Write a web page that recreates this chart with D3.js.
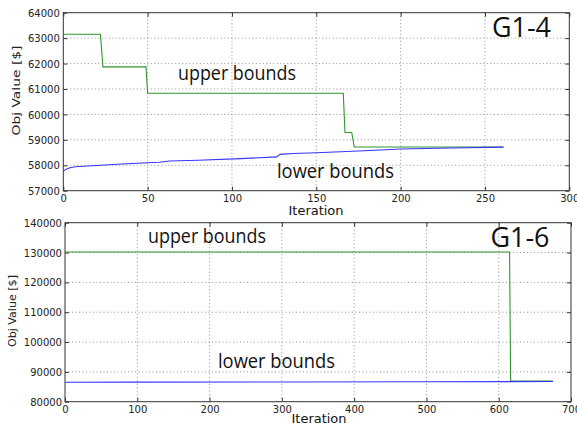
<!DOCTYPE html>
<html>
<head>
<meta charset="utf-8">
<script src="https://cdn.jsdelivr.net/npm/d3@7/dist/d3.min.js"></script>
<style>
  body { margin: 0; background: #fff; }
  svg { display: block; }
  .tick text { font-family: "DejaVu Sans", sans-serif; font-size: 10px; fill: #222; }
  .note { font-family: "Open Sans", "Noto Sans", sans-serif; fill: #111; }
</style>
</head>
<body>
<div id="chart"></div>
<script>
// G1-4 : [iteration, objective]
var g14Upper = [[0,63150],[22,63150],[23.5,61870],[49,61870],[50,60830],[166,60830],[167,59290],[171,59290],[172.5,58720],[261,58720]];
var g14Lower = [[0,57780],[2,57850],[4,57900],[7,57940],[22,58000],[35,58050],[50,58100],[57,58120],[63,58170],[80,58200],[105,58260],[126.5,58330],[128.5,58430],[136,58460],[150,58490],[168,58540],[185,58590],[200,58640],[230,58680],[261,58715]];
var g14XTicks = [0,50,100,150,200,250,300];
var g14YTicks = [57000,58000,59000,60000,61000,62000,63000,64000];

// G1-6
var g16Upper = [[0,130200],[615,130200],[616.5,86950],[675,86950]];
var g16Lower = [[0,86500],[100,86560],[300,86620],[500,86680],[675,86750]];
var g16XTicks = [0,100,200,300,400,500,600,700];
var g16YTicks = [80000,90000,100000,110000,120000,130000,140000];

var svg = d3.select("#chart").append("svg")
  .attr("width", 577)
  .attr("height", 425);

function panel(opt) {
  var x = d3.scaleLinear().domain(opt.xDomain).range([opt.left, opt.right]);
  var y = d3.scaleLinear().domain(opt.yDomain).range([opt.bottom, opt.top]);
  var g = svg.append("g");

  // grid
  g.append("g").selectAll("line.gx")
    .data(opt.xTicks.slice(1, -1)).enter().append("line")
    .attr("x1", d => x(d)).attr("x2", d => x(d))
    .attr("y1", opt.top).attr("y2", opt.bottom)
    .attr("stroke", "#777").attr("stroke-width", 0.8).attr("stroke-dasharray", "1,2.5");
  g.append("g").selectAll("line.gy")
    .data(opt.yTicks.slice(1, -1)).enter().append("line")
    .attr("y1", d => y(d)).attr("y2", d => y(d))
    .attr("x1", opt.left).attr("x2", opt.right)
    .attr("stroke", "#777").attr("stroke-width", 0.8).attr("stroke-dasharray", "1,2.5");

  // axes, ticks pointing inward
  var xb = g.append("g").attr("transform", "translate(0," + opt.bottom + ")")
    .call(d3.axisBottom(x).tickValues(opt.xTicks).tickSizeInner(-4).tickSizeOuter(0).tickPadding(4));
  var xt = g.append("g").attr("transform", "translate(0," + opt.top + ")")
    .call(d3.axisTop(x).tickValues(opt.xTicks).tickSizeInner(-4).tickSizeOuter(0).tickFormat(""));
  var yl = g.append("g").attr("transform", "translate(" + opt.left + ",0)")
    .call(d3.axisLeft(y).tickValues(opt.yTicks).tickSizeInner(-4).tickSizeOuter(0).tickPadding(opt.yPad).tickFormat(d3.format("d")));
  var yr = g.append("g").attr("transform", "translate(" + opt.right + ",0)")
    .call(d3.axisRight(y).tickValues(opt.yTicks).tickSizeInner(-4).tickSizeOuter(0).tickFormat(""));
  [xb, xt, yl, yr].forEach(function (a) {
    a.select(".domain").remove();
    a.selectAll(".tick line").attr("stroke", "#333");
  });
  yl.selectAll(".tick text").attr("dy", "0.36em");

  g.append("rect")
    .attr("x", opt.left).attr("y", opt.top)
    .attr("width", opt.right - opt.left).attr("height", opt.bottom - opt.top)
    .attr("fill", "none").attr("stroke", "#333").attr("stroke-width", 1);

  var line = d3.line().x(d => x(d[0])).y(d => y(d[1]));
  g.append("path").datum(opt.upper).attr("d", line)
    .attr("fill", "none").attr("stroke", "#2f962f").attr("stroke-width", 1.1);
  g.append("path").datum(opt.lower).attr("d", line)
    .attr("fill", "none").attr("stroke", "#3535ff").attr("stroke-width", 1.1);

  // labels
  g.append("text").attr("class", "note")
    .attr("x", opt.upLab[0]).attr("y", opt.upLab[1])
    .attr("font-size", 20).attr("textLength", 118).attr("lengthAdjust", "spacingAndGlyphs")
    .text("upper bounds");
  g.append("text").attr("class", "note")
    .attr("x", opt.loLab[0]).attr("y", opt.loLab[1])
    .attr("font-size", 20).attr("textLength", 117).attr("lengthAdjust", "spacingAndGlyphs")
    .text("lower bounds");
  g.append("text").attr("class", "note")
    .attr("x", opt.name[0]).attr("y", opt.name[1])
    .attr("font-size", 28).attr("textLength", 59).attr("lengthAdjust", "spacingAndGlyphs")
    .text(opt.title);

  g.append("text")
    .attr("x", opt.xLab[0]).attr("y", opt.xLab[1])
    .attr("font-family", "DejaVu Sans, sans-serif").attr("font-size", 13).attr("fill", "#111")
    .attr("textLength", 55).attr("lengthAdjust", "spacingAndGlyphs")
    .text("Iteration");

  g.append("text")
    .attr("transform", "translate(" + opt.yLab[0] + "," + opt.yLab[1] + ") rotate(-90)")
    .attr("text-anchor", "middle")
    .attr("font-family", "DejaVu Sans, sans-serif").attr("font-size", 10).attr("fill", "#222")
    .attr("textLength", opt.yLabLen).attr("lengthAdjust", "spacingAndGlyphs")
    .text("Obj Value [$]");
}

panel({
  xDomain: [0, 300], yDomain: [57000, 64000],
  left: 63.3, right: 569.3, top: 12.7, bottom: 190.7,
  xTicks: g14XTicks, yTicks: g14YTicks, yPad: 3.5,
  upper: g14Upper, lower: g14Lower,
  upLab: [178, 80], loLab: [277, 178], name: [492, 36.5], title: "G1-4",
  xLab: [288.5, 214.5], yLab: [20, 90.5], yLabLen: 90
});

panel({
  xDomain: [0, 700], yDomain: [80000, 140000],
  left: 65, right: 571, top: 222.7, bottom: 401.7,
  xTicks: g16XTicks, yTicks: g16YTicks, yPad: 3,
  upper: g16Upper, lower: g16Lower,
  upLab: [148, 243], loLab: [218, 368], name: [490.5, 246.5], title: "G1-6",
  xLab: [291.5, 423], yLab: [16, 311], yLabLen: 72
});
</script>
</body>
</html>
